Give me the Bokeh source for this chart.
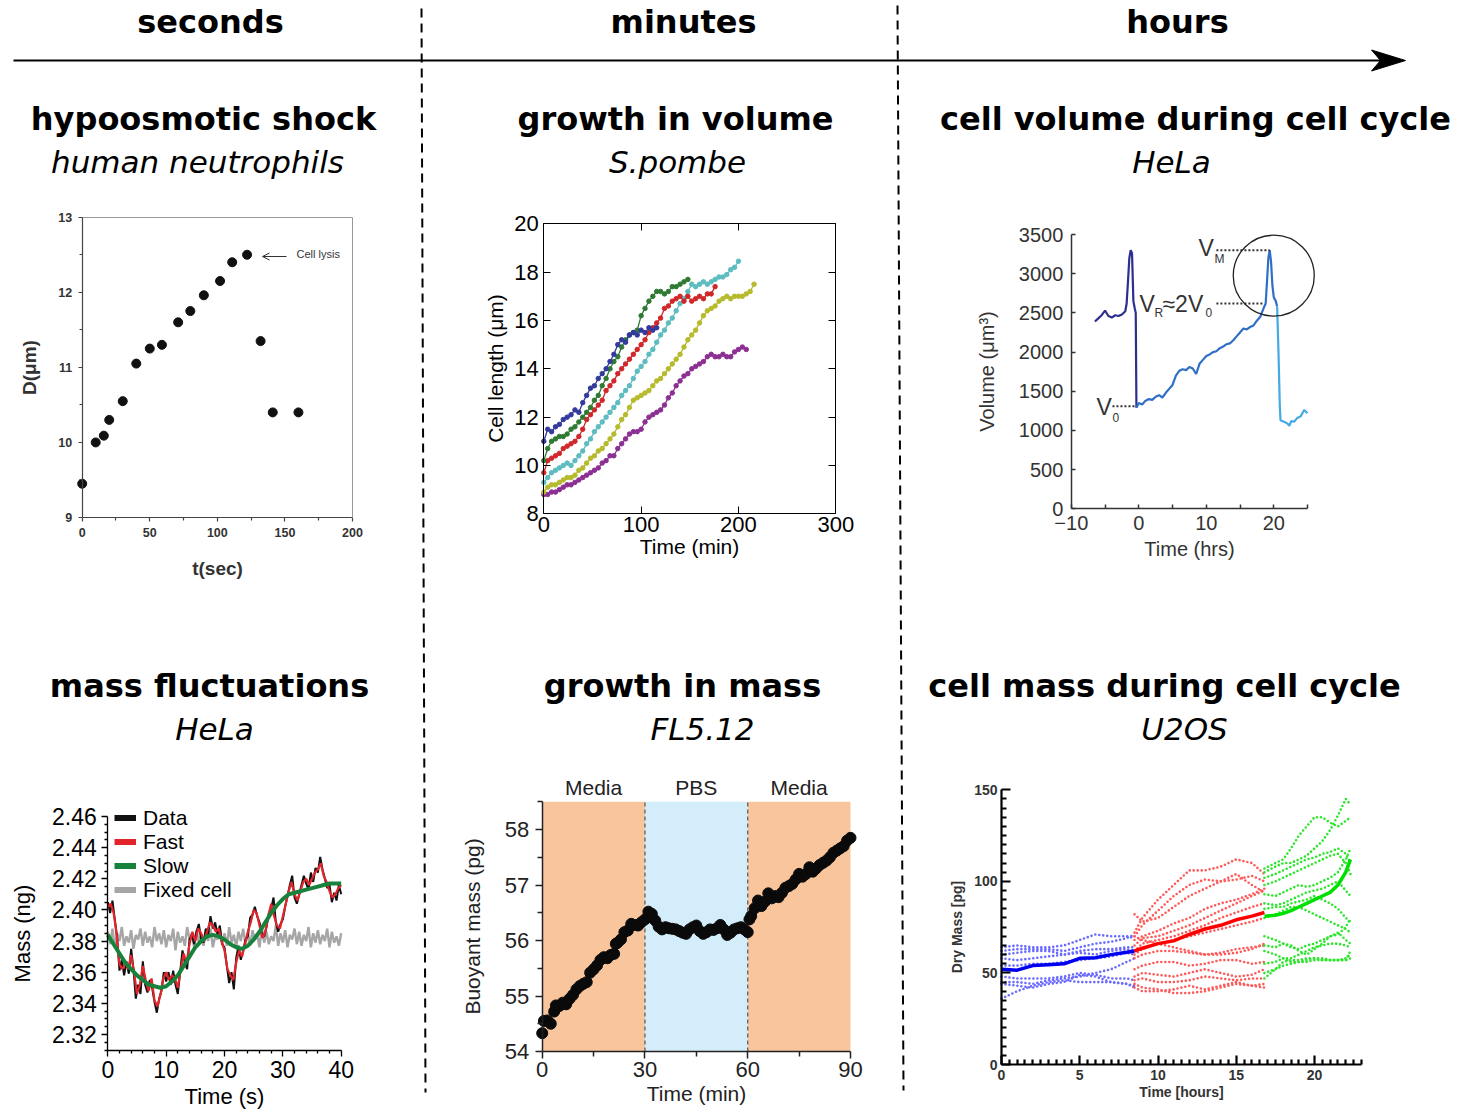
import numpy as np
from bokeh.plotting import figure
from bokeh.models import (Range1d, LinearAxis, FixedTicker, Legend, LegendItem,
                          ColumnDataSource, Arrow, OpenHead, NumeralTickFormatter)
from bokeh.core.properties import value
from bokeh.embed import file_html
from bokeh.resources import INLINE

# ======================= DATA =======================
# hypoosmotic shock (human neutrophils)
hy_t = [0, 10, 16, 20, 30, 40, 50, 59, 71, 80, 90, 102, 111, 122, 132, 141, 160]
hy_d = [9.45, 10.0, 10.09, 10.3, 10.55, 11.05, 11.25, 11.3, 11.6, 11.75, 11.96, 12.15, 12.4, 12.5, 11.35, 10.4, 10.4]

# growth in volume (S. pombe) - cell length (um) vs time (min)
sp_blue_t = list(range(0, 120, 4))
sp_blue = [11.0, 11.5, 11.4, 11.6, 11.7, 11.9, 12.0, 12.1, 12.3, 12.2, 12.6, 12.9, 13.2, 13.3, 13.6,
           13.8, 14.0, 14.3, 14.6, 15.0, 15.2, 15.1, 15.4, 15.5, 15.4, 15.6, 15.5, 15.7, 15.6, 15.7]
sp_green_t = list(range(0, 152, 4))
sp_green = [10.2, 10.7, 11.0, 11.1, 11.2, 11.2, 11.3, 11.5, 11.6, 11.8, 12.0, 12.2, 12.4, 12.7, 12.9,
            13.3, 13.6, 14.0, 14.3, 14.5, 14.9, 15.2, 15.4, 15.5, 15.6, 16.2, 16.5, 16.8, 17.0, 17.2,
            17.2, 17.1, 17.2, 17.4, 17.4, 17.5, 17.6, 17.7]
sp_red_t = list(range(0, 180, 4))
sp_red = [9.7, 10.2, 10.3, 10.4, 10.5, 10.7, 10.8, 10.9, 11.0, 11.2, 11.5, 11.9, 12.1, 12.3, 12.5,
          12.7, 13.1, 13.3, 13.5, 13.8, 14.0, 14.2, 14.4, 14.6, 14.8, 15.0, 15.2, 15.5, 15.7, 15.9,
          16.1, 16.5, 16.6, 16.8, 16.9, 17.0, 16.8, 17.0, 16.8, 16.9, 17.0, 16.9, 17.1, 17.1, 17.4]
sp_cyan_t = list(range(0, 204, 4))
sp_cyan = [9.3, 9.5, 9.7, 9.8, 9.9, 10.0, 10.1, 10.0, 10.2, 10.4, 10.6, 10.9, 11.1, 11.4, 11.6,
           11.8, 12.0, 12.2, 12.4, 12.6, 12.9, 13.1, 13.3, 13.6, 13.9, 14.1, 14.3, 14.6, 14.8, 15.1,
           15.4, 15.6, 15.9, 16.1, 16.4, 16.7, 16.9, 17.2, 17.5, 17.4, 17.5, 17.6, 17.5, 17.6, 17.7,
           17.8, 17.8, 17.9, 18.1, 18.2, 18.45]
sp_olive_t = list(range(0, 220, 4))
sp_olive = [8.9, 9.1, 9.2, 9.2, 9.3, 9.4, 9.5, 9.5, 9.6, 9.8, 9.9, 10.1, 10.3, 10.4, 10.6,
            10.7, 10.9, 11.1, 11.3, 11.6, 11.9, 12.1, 12.4, 12.7, 12.8, 12.9, 13.0, 13.1, 13.3, 13.5,
            13.6, 13.8, 14.0, 14.2, 14.4, 14.6, 14.9, 15.2, 15.4, 15.6, 15.9, 16.2, 16.4, 16.5, 16.6,
            16.8, 16.9, 17.0, 16.9, 17.0, 17.0, 17.0, 17.1, 17.2, 17.5]
sp_purple_t = list(range(0, 212, 4))
sp_purple = [8.8, 8.8, 8.9, 8.9, 9.0, 9.1, 9.2, 9.2, 9.3, 9.4, 9.5, 9.6, 9.7, 9.8, 9.9,
             10.1, 10.2, 10.4, 10.4, 10.7, 10.9, 11.1, 11.3, 11.4, 11.4, 11.5, 11.8, 12.0, 12.1, 12.2,
             12.3, 12.5, 12.8, 13.0, 13.3, 13.5, 13.7, 13.8, 14.0, 14.1, 14.2, 14.3, 14.5, 14.6, 14.5,
             14.5, 14.6, 14.5, 14.5, 14.7, 14.8, 14.9, 14.8]

# cell volume during cell cycle (HeLa)
hv_prev_t = [-6.5, -6, -5.5, -5, -4.5, -4, -3.5, -3, -2.5, -2, -1.8, -1.6, -1.4, -1.2, -1.0, -0.8, -0.6, -0.45, -0.35]
hv_prev = [2390, 2430, 2470, 2530, 2460, 2440, 2470, 2460, 2480, 2520, 2620, 2900, 3200, 3300, 3260, 2650, 2560, 2500, 1290]
hv_cyc_t = [-0.35, 0, 0.5, 1, 1.5, 2, 2.5, 3, 3.5, 4, 4.5, 5, 5.5, 6, 6.5, 7, 7.5, 8, 8.5, 9, 9.5, 10,
            10.5, 11, 11.5, 12, 12.5, 13, 13.5, 14, 14.5, 15, 15.5, 16, 16.5, 17, 17.5, 18, 18.5, 18.8,
            19.0, 19.2, 19.4, 19.6, 19.8, 20.0, 20.3, 20.5]
hv_cyc = [1290, 1350, 1330, 1380, 1400, 1390, 1430, 1450, 1420, 1480, 1530, 1580, 1700, 1760, 1780, 1770,
          1810, 1790, 1720, 1850, 1900, 1950, 1970, 2000, 2010, 2050, 2070, 2100, 2110, 2150, 2200, 2250,
          2300, 2290, 2320, 2340, 2400, 2450, 2560, 2620, 2900, 3200, 3300, 3150, 2850, 2700, 2650, 2580]
hv_next_t = [20.5, 20.7, 20.9, 21, 21.5, 22, 22.3, 22.6, 23, 23.5, 24, 24.5, 25]
hv_next = [2580, 2000, 1300, 1130, 1110, 1090, 1060, 1120, 1110, 1160, 1180, 1260, 1220]
hv_vm, hv_vr, hv_v0 = 3300, 2620, 1310

# mass fluctuations (HeLa) - mass (ng) vs time (s)
mf_data = [2.405, 2.398, 2.406, 2.394, 2.382, 2.361, 2.368, 2.358, 2.367, 2.359,
           2.375, 2.362, 2.343, 2.352, 2.346, 2.367, 2.352, 2.347, 2.355, 2.350,
           2.341, 2.334, 2.343, 2.348, 2.360, 2.354, 2.360, 2.352, 2.361, 2.352,
           2.346, 2.360, 2.374, 2.366, 2.362, 2.381, 2.384, 2.378, 2.386, 2.391,
           2.381, 2.379, 2.388, 2.384, 2.396, 2.388, 2.392, 2.384, 2.390, 2.378,
           2.376, 2.364, 2.353, 2.360, 2.349, 2.369, 2.377, 2.368, 2.374, 2.381,
           2.383, 2.395, 2.397, 2.402, 2.396, 2.392, 2.385, 2.383, 2.389, 2.398,
           2.401, 2.408, 2.392, 2.386, 2.391, 2.394, 2.402, 2.409, 2.416, 2.422,
           2.408, 2.404, 2.410, 2.416, 2.422, 2.417, 2.413, 2.424, 2.418, 2.427,
           2.424, 2.434, 2.426, 2.420, 2.414, 2.416, 2.405, 2.411, 2.406, 2.416,
           2.410]
mf_fast = [2.402, 2.404, 2.398, 2.385, 2.365, 2.362, 2.366, 2.362, 2.371, 2.360,
           2.346, 2.352, 2.364, 2.355, 2.348, 2.356, 2.342, 2.338, 2.345, 2.356,
           2.360, 2.355, 2.358, 2.356, 2.350, 2.362, 2.372, 2.366, 2.378, 2.386,
           2.380, 2.388, 2.385, 2.380, 2.386, 2.392, 2.390, 2.386, 2.388, 2.380,
           2.374, 2.362, 2.358, 2.355, 2.366, 2.374, 2.370, 2.378, 2.386, 2.392,
           2.400, 2.398, 2.390, 2.382, 2.386, 2.396, 2.404, 2.396, 2.390, 2.388,
           2.396, 2.404, 2.412, 2.418, 2.410, 2.406, 2.412, 2.418, 2.420, 2.416,
           2.420, 2.424, 2.426, 2.430, 2.422, 2.418, 2.412, 2.408, 2.410, 2.414,
           2.416]
mf_slow = [2.384, 2.378, 2.372, 2.366, 2.362, 2.358, 2.355, 2.352, 2.351, 2.350,
           2.351, 2.354, 2.358, 2.364, 2.370, 2.376, 2.380, 2.383, 2.384, 2.383,
           2.381, 2.378, 2.376, 2.375, 2.377, 2.381, 2.386, 2.392, 2.398, 2.403,
           2.407, 2.410, 2.411, 2.412, 2.413, 2.414, 2.415, 2.416, 2.417, 2.417,
           2.417]
mf_fixed = [2.386, 2.378, 2.388, 2.376, 2.385, 2.380, 2.389, 2.377, 2.383, 2.379,
            2.387, 2.375, 2.384, 2.381, 2.388, 2.377, 2.386, 2.379, 2.383, 2.376,
            2.389, 2.380, 2.385, 2.378, 2.387, 2.376, 2.384, 2.380, 2.388, 2.374,
            2.386, 2.379, 2.383, 2.377, 2.389, 2.381, 2.385, 2.376, 2.387, 2.379,
            2.384, 2.377, 2.386, 2.380, 2.388, 2.376, 2.383, 2.381, 2.387, 2.378,
            2.385, 2.377, 2.389, 2.379, 2.384, 2.376, 2.386, 2.380, 2.388, 2.378,
            2.385, 2.377, 2.387, 2.381, 2.384, 2.376, 2.389, 2.379, 2.386, 2.378,
            2.383, 2.380, 2.390, 2.377, 2.385, 2.379, 2.387, 2.376, 2.384, 2.381,
            2.388, 2.378, 2.386, 2.377, 2.384, 2.380, 2.389, 2.376, 2.385, 2.379,
            2.387, 2.378, 2.384, 2.380, 2.388, 2.376, 2.386, 2.379, 2.383, 2.377,
            2.385]
mf_data_t = list(np.linspace(0, 40, len(mf_data)))
mf_fast_t = list(np.linspace(0, 40, len(mf_fast)))
mf_slow_t = list(np.linspace(0, 40, len(mf_slow)))
mf_fixed_t = list(np.linspace(0, 40, len(mf_fixed)))
mf_labels = ["Data", "Fast", "Slow", "Fixed cell"]

# growth in mass (FL5.12) - buoyant mass (pg) vs time (min)
bm_t = [0, 0.5, 1.5, 2.5, 3.5, 4, 5, 6, 7, 8, 9, 10, 11, 12, 13, 14, 15, 16, 17, 18,
        19, 20, 21, 21.5, 22, 23, 24, 25, 26, 27, 28, 29, 30, 31, 32, 33, 34, 35, 36, 37,
        38, 39, 40, 41, 42, 43, 44, 45, 46, 47, 48, 49, 50, 51, 52, 53, 54, 55, 56, 57,
        58, 59, 60, 60.5, 61, 62, 63, 64, 65, 66, 67, 68, 69, 70, 71, 72, 73, 74, 75, 76,
        77, 78, 79, 80, 81, 82, 83, 84, 85, 86, 87, 88, 89, 90]
bm_v = [54.33, 54.55, 54.56, 54.50, 54.72, 54.83, 54.82, 54.88, 54.85, 54.95, 55.02, 55.12, 55.18, 55.22, 55.25, 55.42, 55.48, 55.55, 55.65, 55.70,
        55.68, 55.74, 55.76, 55.94, 55.96, 56.02, 56.15, 56.18, 56.30, 56.28, 56.27, 56.33, 56.38, 56.52, 56.48, 56.36, 56.25, 56.20, 56.24, 56.22,
        56.21, 56.20, 56.17, 56.14, 56.12, 56.20, 56.24, 56.27, 56.17, 56.12, 56.15, 56.20, 56.19, 56.22, 56.28, 56.20, 56.10, 56.14, 56.20, 56.22,
        56.24, 56.20, 56.15, 56.38, 56.44, 56.58, 56.72, 56.62, 56.70, 56.85, 56.76, 56.80, 56.78, 56.86, 56.95, 56.98, 57.02, 57.10, 57.20, 57.15,
        57.20, 57.32, 57.24, 57.30, 57.36, 57.40, 57.44, 57.50, 57.58, 57.62, 57.66, 57.70, 57.80, 57.85]
bm_phase = ["Media", "PBS", "Media"]
bm_phase_start = [0, 30, 60]
bm_phase_end = [30, 60, 90]
bm_phase_color = ["#f8c59d", "#d3eefa", "#f8c59d"]

# cell mass during cell cycle (U2OS) - dry mass (pg) vs time (hours)
u2_blue_t = [0, 1, 2, 3, 4, 5, 6, 7, 8, 8.5]
u2_blue = [[64, 65, 64, 64, 65, 68, 71, 70, 70, 69],
           [62, 63, 63, 63, 62, 64, 66, 67, 69, 71],
           [60, 61, 62, 62, 60, 62, 63, 63, 64, 64],
           [58, 57, 58, 59, 60, 61, 60, 62, 63, 62],
           [54, 54, 55, 55, 56, 57, 58, 59, 61, 60],
           [48, 47, 47, 47, 48, 50, 49, 47, 47, 46],
           [45, 45, 44, 46, 47, 48, 50, 52, 56, 58],
           [44, 43, 42, 44, 45, 49, 48, 45, 44, 42],
           [36, 40, 43, 45, 46, 45, 45, 45, 44, 43]]
u2_blue_mean = [52, 51.5, 54, 54.5, 55, 58, 58.3, 60, 61.3, 62]
u2_red_t = [8.5, 9, 10, 11, 12, 13, 14, 15, 16, 16.8]
u2_red = [[72, 80, 90, 98, 106, 106, 108, 112, 110, 104],
          [70, 76, 84, 92, 98, 101, 100, 101, 103, 100],
          [82, 78, 80, 86, 92, 96, 100, 104, 98, 94],
          [68, 70, 73, 77, 80, 85, 88, 90, 93, 96],
          [65, 69, 70, 73, 76, 80, 84, 88, 92, 95],
          [62, 66, 68, 70, 73, 76, 80, 83, 86, 88],
          [60, 63, 66, 68, 70, 72, 74, 76, 78, 80],
          [70, 68, 66, 64, 62, 60, 61, 63, 64, 65],
          [58, 60, 62, 62, 61, 60, 60, 61, 63, 66],
          [52, 54, 56, 56, 54, 55, 57, 57, 55, 56],
          [48, 50, 49, 48, 50, 52, 50, 48, 49, 52],
          [46, 47, 45, 45, 46, 48, 47, 46, 47, 47],
          [44, 42, 41, 39, 39, 40, 42, 44, 43, 42],
          [42, 40, 40, 41, 43, 41, 43, 45, 43, 44]]
u2_red_mean = [62, 63.5, 66, 67.5, 71, 74, 76, 79, 81, 83]
u2_green_t = [16.8, 17.5, 18, 18.5, 19, 19.5, 20, 20.5, 21, 21.5, 22, 22.3]
u2_green = [[107, 110, 112, 118, 125, 130, 135, 135, 132, 130, 133, 135],
            [105, 108, 110, 110, 112, 114, 118, 122, 128, 136, 145, 142],
            [102, 104, 106, 108, 110, 112, 113, 115, 116, 118, 115, 110],
            [98, 100, 102, 104, 106, 108, 110, 112, 114, 115, 110, 104],
            [93, 92, 94, 96, 98, 97, 98, 100, 102, 105, 112, 118],
            [88, 87, 88, 90, 92, 94, 95, 96, 98, 100, 95, 92],
            [85, 86, 86, 88, 89, 90, 92, 90, 88, 85, 80, 78],
            [80, 82, 84, 86, 86, 84, 82, 80, 78, 76, 74, 72],
            [70, 68, 66, 64, 63, 65, 66, 68, 70, 71, 75, 80],
            [65, 64, 66, 65, 62, 60, 63, 66, 70, 72, 68, 66],
            [62, 60, 58, 58, 60, 62, 64, 65, 66, 66, 65, 64],
            [55, 56, 58, 56, 56, 57, 58, 58, 57, 57, 57, 62],
            [50, 52, 54, 55, 56, 56, 57, 57, 57, 57, 57, 58],
            [47, 52, 56, 57, 57, 58, 58, 57, 57, 57, 58, 60]]
u2_green_mean = [81, 81.5, 82.5, 84, 86, 88, 90, 92, 94, 98, 105, 112]

# texts
scale_labels = ["seconds", "minutes", "hours"]
panel_titles = ["hypoosmotic shock", "growth in volume", "cell volume during cell cycle",
                "mass fluctuations", "growth in mass", "cell mass during cell cycle"]
panel_subtitles = ["human neutrophils", "S.pombe", "HeLa", "HeLa", "FL5.12", "U2OS"]

# ======================= FIGURE =======================
W, H = 1467, 1115
p = figure(width=W, height=H, x_range=Range1d(0, W), y_range=Range1d(0, H),
           output_backend="svg", toolbar_location=None,
           x_axis_location=None, y_axis_location=None, min_border=0,
           outline_line_color=None, background_fill_color="white",
           border_fill_color="white")
p.grid.visible = False


def X(x):  # image pixel -> figure units
    return x


def Y(y):
    return H - y


def panel(name, px0, px1, py_top, py_bot, dx0, dx1, dy0, dy1):
    sx = (dx1 - dx0) / (px1 - px0)
    x0 = dx0 - X(px0) * sx
    sy = (dy1 - dy0) / (py_bot - py_top)
    y0 = dy0 - Y(py_bot) * sy
    p.extra_x_ranges = {**p.extra_x_ranges, name: Range1d(x0, x0 + W * sx)}
    p.extra_y_ranges = {**p.extra_y_ranges, name: Range1d(y0, y0 + H * sy)}
    return dict(x_range_name=name, y_range_name=name)


def add_axis(rn, side, loc, bounds, ticks, minor=(), title=None, font="Liberation Sans",
             size="20px", style="normal", color="#000", lcolor="#000", lwidth=1.0,
             t_in=0, t_out=5, m_in=0, m_out=3, standoff=5,
             title_size="20px", title_style="normal", title_standoff=5,
             show_labels=True, overrides=None, formatter=None):
    ax = LinearAxis(x_range_name=rn, y_range_name=rn, fixed_location=loc, bounds=bounds,
                    ticker=FixedTicker(ticks=list(ticks), minor_ticks=list(minor)))
    ax.axis_line_color = lcolor
    ax.axis_line_width = lwidth
    ax.major_tick_line_color = lcolor
    ax.minor_tick_line_color = lcolor
    ax.major_tick_line_width = lwidth
    ax.minor_tick_line_width = lwidth
    ax.major_tick_in = t_in
    ax.major_tick_out = t_out
    ax.minor_tick_in = m_in
    ax.minor_tick_out = m_out
    ax.major_label_text_font = font
    ax.major_label_text_font_size = size
    ax.major_label_text_font_style = style
    ax.major_label_text_color = color if show_labels else None
    ax.major_label_standoff = standoff
    if formatter is not None:
        ax.formatter = formatter
    if overrides:
        ax.major_label_overrides = overrides
    if title:
        ax.axis_label = title
        ax.axis_label_text_font = font
        ax.axis_label_text_font_size = title_size
        ax.axis_label_text_font_style = title_style
        ax.axis_label_text_color = color
        ax.axis_label_standoff = title_standoff
    p.add_layout(ax, side)
    return ax


def label(text, xi, yi, size, font="DejaVu Sans", style="normal", color="#000",
          align="center", baseline="middle", angle=0.0):
    p.text(x=[X(xi)], y=[Y(yi)], text=[text], text_font=value(font), text_font_size=size,
           text_font_style=style, text_color=color, text_align=align,
           text_baseline=baseline, angle=angle)


# ---------------- header ----------------
for t, xc in zip(scale_labels, [210, 683, 1177]):
    label(t, xc, 21, "32px", style="bold")
p.segment(x0=[X(13)], y0=[Y(60)], x1=[X(1384)], y1=[Y(60)], line_color="#000", line_width=2)
p.patch(x=[X(1405), X(1371), X(1380), X(1371)], y=[Y(60), Y(49.5), Y(60), Y(70.5)],
        fill_color="#000", line_color="#000", line_width=1)
p.segment(x0=[X(421), X(897)], y0=[Y(8), Y(5)], x1=[X(425), X(903)], y1=[Y(1092), Y(1090)],
          line_color="#000", line_width=2, line_dash="9 6")

for i, (tt, st) in enumerate(zip(panel_titles, panel_subtitles)):
    xt = [203, 675, 1195, 209, 682, 1164][i]
    xs = [197, 677, 1171, 214, 702, 1184][i]
    yc = 118 if i < 3 else 685
    label(tt, xt, yc, "32px", style="bold")
    label(st, xs, yc + 43, "31px", style="italic")

# ---------------- hypoosmotic shock ----------------
hy = panel("hy", 81.7, 352, 216.7, 517, 0, 200, 9, 13)
hy_font = dict(font="Liberation Sans", size="12.5px", style="bold", color="#333", lcolor="#444",
               lwidth=1.2, t_out=4, m_out=3, title_size="19px", title_style="bold")
add_axis("hy", "below", 9, (0, 200), [0, 50, 100, 150, 200], [25, 75, 125, 175],
         title="t(sec)", standoff=6, title_standoff=18, **hy_font)
add_axis("hy", "left", 0, (9, 13), [9, 10, 11, 12, 13], [9.5, 10.5, 11.5, 12.5],
         title="D(\u03bcm)", standoff=6, title_standoff=16, **hy_font)
add_axis("hy", "above", 13, (0, 200), [], [], lcolor="#999", t_out=0, m_out=0, show_labels=False)
add_axis("hy", "right", 200, (9, 13), [], [], lcolor="#999", t_out=0, m_out=0, show_labels=False)
p.scatter(hy_t, hy_d, size=9, color="#111", **hy)
label("Cell lysis", 296, 253, "11px", font="Liberation Sans", color="#333", align="left")
p.add_layout(Arrow(end=OpenHead(size=7, line_width=1, line_color="#333"),
                   x_start=X(286), y_start=Y(256), x_end=X(262), y_end=Y(256),
                   line_color="#333", line_width=1))

# ---------------- growth in volume (S. pombe) ----------------
sp = panel("sp", 543.3, 835.3, 223.3, 513.3, 0, 300, 8, 20)
sp_style = dict(font="Liberation Sans", size="22px", color="#000", lcolor="#000", lwidth=1.0,
                t_in=7, t_out=0, m_in=0, m_out=0, title_size="21px")
add_axis("sp", "below", 8, (0, 300), [0, 100, 200, 300], title="Time (min)",
         standoff=3, title_standoff=0, **sp_style)
add_axis("sp", "left", 0, (8, 20), [8, 10, 12, 14, 16, 18, 20], title="Cell length (\u03bcm)",
         standoff=5, title_standoff=4, **sp_style)
add_axis("sp", "above", 20, (0, 300), [0, 100, 200, 300], show_labels=False,
         lcolor="#000", t_in=7, t_out=0)
add_axis("sp", "right", 300, (8, 20), [8, 10, 12, 14, 16, 18, 20], show_labels=False,
         lcolor="#000", t_in=7, t_out=0)
for tt, vv, col in [(sp_purple_t, sp_purple, "#8c2f93"), (sp_olive_t, sp_olive, "#b6ba2c"),
                    (sp_cyan_t, sp_cyan, "#5dbcbf"), (sp_red_t, sp_red, "#d0282a"),
                    (sp_green_t, sp_green, "#2f7a33"), (sp_blue_t, sp_blue, "#333a9c")]:
    p.line(tt, vv, line_color=col, line_width=1.3, **sp)
    p.scatter(tt, vv, size=4.5, color=col, **sp)

# ---------------- cell volume during cell cycle (HeLa) ----------------
hv = panel("hv", 1070.8, 1307, 234, 508.3, -10, 25, 0, 3500)
hv_style = dict(font="Liberation Sans", size="20px", color="#333", lcolor="#333", lwidth=1.5,
                t_in=4, t_out=0, m_in=4, m_out=0, title_size="20px")
add_axis("hv", "below", 0, (-10, 25), [-10, 0, 10, 20], [-5, 5, 15, 25], title="Time (hrs)",
         standoff=7, title_standoff=5, overrides={-10: "\u221210"}, **hv_style)
add_axis("hv", "left", -10, (0, 3500), [0, 500, 1000, 1500, 2000, 2500, 3000, 3500],
         title="Volume (\u03bcm\u00b3)", standoff=8, title_standoff=18, **hv_style)
p.line(hv_prev_t, hv_prev, line_color="#2c2f90", line_width=2.2, **hv)
p.line(hv_cyc_t, hv_cyc, line_color="#2f6fc6", line_width=2.2, **hv)
p.line(hv_next_t, hv_next, line_color="#45aae3", line_width=2.2, **hv)
p.segment(x0=[11.5, 11.5, -3.9], y0=[hv_vm, hv_vr, hv_v0], x1=[19.4, 18.6, -0.35],
          y1=[hv_vm, hv_vr, hv_v0], line_color="#333", line_width=2, line_dash="2 2", **hv)
p.scatter([20], [2975], size=81, marker="circle", fill_color=None, line_color="#222",
          line_width=1.3, **hv)
label("V", 1198, 247, "23px", font="Liberation Sans", color="#333", align="left")
label("M", 1214, 258, "12px", font="Liberation Sans", color="#333", align="left")
label("V", 1139, 303, "23px", font="Liberation Sans", color="#333", align="left")
label("R", 1154, 312, "12px", font="Liberation Sans", color="#333", align="left")
label("\u22482V", 1162, 303, "23px", font="Liberation Sans", color="#333", align="left")
label("0", 1205, 312, "12px", font="Liberation Sans", color="#333", align="left")
label("V", 1096, 406, "23px", font="Liberation Sans", color="#333", align="left")
label("0", 1112, 417, "12px", font="Liberation Sans", color="#333", align="left")

# ---------------- mass fluctuations (HeLa) ----------------
mf = panel("mf", 107.3, 340.7, 816, 1034, 0, 40, 2.32, 2.46)
mf_style = dict(font="Liberation Sans", size="23px", color="#000", lcolor="#000", lwidth=1.3,
                t_out=6, m_out=3, title_size="22px")
add_axis("mf", "below", 2.31, (0, 40), [0, 10, 20, 30, 40],
         [2, 4, 6, 8, 12, 14, 16, 18, 22, 24, 26, 28, 32, 34, 36, 38],
         title="Time (s)", standoff=5, title_standoff=2, **mf_style)
mf_minor = [round(2.31 + 0.005 * i, 3) for i in range(31)]
add_axis("mf", "left", 0, (2.31, 2.46), [2.32, 2.34, 2.36, 2.38, 2.40, 2.42, 2.44, 2.46],
         [m for m in mf_minor if round(m * 1000) % 20 != 0],
         title="Mass (ng)", standoff=5, title_standoff=14,
         formatter=NumeralTickFormatter(format="0.00"), **mf_style)
p.line(mf_fixed_t, mf_fixed, line_color="#a6a6a6", line_width=2.4, **mf)
p.line(mf_data_t, mf_data, line_color="#111", line_width=2.0, **mf)
p.line(mf_fast_t, mf_fast, line_color="#e2252b", line_width=2.2, **mf)
p.line(mf_slow_t, mf_slow, line_color="#17823b", line_width=4, **mf)
leg_items = []
for lab, col in zip(mf_labels, ["#111", "#e2252b", "#17823b", "#a6a6a6"]):
    r = p.line("x", "y", source=ColumnDataSource(dict(x=np.array([np.nan]), y=np.array([np.nan]))),
               line_color=col, line_width=6, **mf)
    leg_items.append(LegendItem(label=lab, renderers=[r]))
leg = Legend(items=leg_items, location=(X(114), Y(901.5)), orientation="vertical",
             background_fill_alpha=0, border_line_color=None, padding=0, margin=0,
             spacing=0, label_height=23, glyph_height=23, glyph_width=22, label_standoff=7,
             label_text_font="Liberation Sans", label_text_font_size="21px",
             label_text_color="#000")
p.add_layout(leg, "center")

# ---------------- growth in mass (FL5.12) ----------------
bm = panel("bm", 541.7, 850, 829, 1051, 0, 90, 54, 58)
p.quad(left=bm_phase_start, right=bm_phase_end, bottom=[54] * 3, top=[58.5] * 3,
       fill_color=bm_phase_color, line_color=None, **bm)
p.segment(x0=bm_phase_end[:2], y0=[54, 54], x1=bm_phase_end[:2], y1=[58.5, 58.5],
          line_color="#555", line_width=1.2, line_dash="4 3", **bm)
p.text(x=[(a + b) / 2 for a, b in zip(bm_phase_start, bm_phase_end)], y=[58.76] * 3,
       text=bm_phase, text_font=value("Liberation Sans"), text_font_size="21px",
       text_color="#222", text_align="center", text_baseline="middle", **bm)
bm_style = dict(font="Liberation Sans", size="22px", color="#222", lcolor="#222", lwidth=1.5,
                t_out=7, m_out=5, title_size="21px")
add_axis("bm", "below", 54, (0, 90), [0, 30, 60, 90], [15, 45, 75], title="Time (min)",
         standoff=3, title_standoff=2, **bm_style)
add_axis("bm", "left", 0, (54, 58.5), [54, 55, 56, 57, 58], [54.5, 55.5, 56.5, 57.5, 58.5],
         title="Buoyant mass (pg)", standoff=6, title_standoff=18, **bm_style)
p.scatter(bm_t, bm_v, size=11, color="#0a0a0a", **bm)

# ---------------- cell mass during cell cycle (U2OS) ----------------
u2 = panel("u2", 1001, 1314, 789.3, 1064, 0, 20, 0, 150)
u2_style = dict(font="Liberation Sans", size="14px", style="bold", color="#333", lcolor="#000",
                lwidth=2.2, t_in=9, t_out=0, m_in=5, m_out=0, title_size="14px",
                title_style="bold")
add_axis("u2", "below", 0, (0, 23), [0, 5, 10, 15, 20],
         [0.5 * i for i in range(47) if i % 10 != 0], title="Time [hours]",
         standoff=5, title_standoff=1, **u2_style)
add_axis("u2", "left", 0, (0, 150), [0, 50, 100, 150],
         [5 * i for i in range(31) if i % 10 != 0], title="Dry Mass [pg]",
         standoff=4, title_standoff=6, **u2_style)
for tt, traces, col in [(u2_blue_t, u2_blue, "#6a6aff"), (u2_red_t, u2_red, "#ff5a5a"),
                        (u2_green_t, u2_green, "#2ee62e")]:
    p.multi_line(xs=[tt] * len(traces), ys=traces, line_color=col, line_width=2.6,
                 line_dash="0 4", line_cap="round", **u2)
p.line(u2_blue_t, u2_blue_mean, line_color="#0000f0", line_width=3.5, **u2)
p.line(u2_red_t, u2_red_mean, line_color="#ff0000", line_width=3.5, **u2)
p.line(u2_green_t, u2_green_mean, line_color="#00e000", line_width=3.5, **u2)

open("out.html", "w").write(file_html(p, INLINE))
